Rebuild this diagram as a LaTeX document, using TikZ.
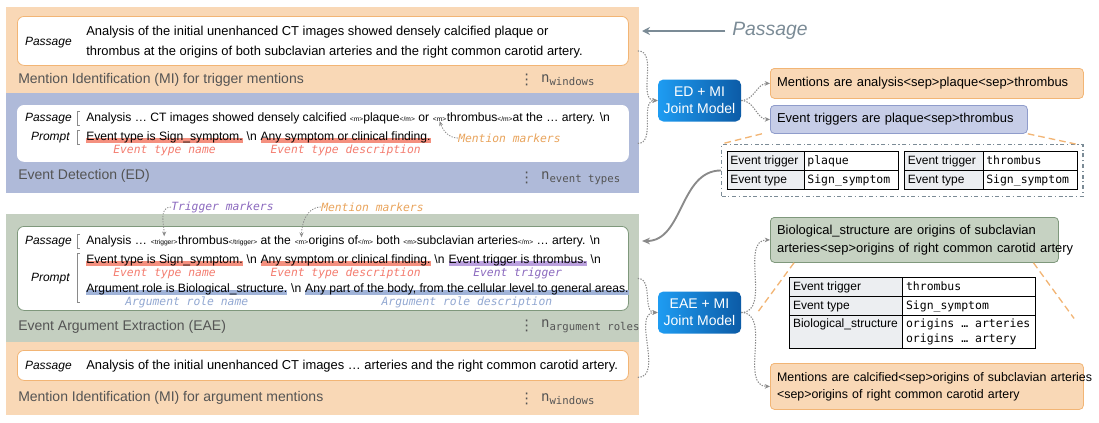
\documentclass[tikz,border=0pt]{standalone}
\usepackage{fontspec}
\setmainfont{Liberation Sans}
\setmonofont{DejaVu Sans Mono}
\newfontfamily\symfont{DejaVu Sans}
\usepackage{array}
\usepackage{colortbl}
\usetikzlibrary{positioning,arrows.meta}

\definecolor{miorange}{HTML}{F9D8B6}
\definecolor{miborder}{HTML}{F2B575}
\definecolor{edblue}{HTML}{AFBAD9}
\definecolor{edbox}{HTML}{C6CDE7}
\definecolor{edborder}{HTML}{8F9CCB}
\definecolor{eaegreen}{HTML}{C4CFC0}
\definecolor{eaebox}{HTML}{C6D2C2}
\definecolor{eaeborder}{HTML}{7F987C}
\definecolor{hlred}{HTML}{F4907F}
\definecolor{hlpurple}{HTML}{BBA1DE}
\definecolor{hlblue}{HTML}{A0B3D8}
\definecolor{txred}{HTML}{F47D70}
\definecolor{txorange}{HTML}{E9A45C}
\definecolor{txpurple}{HTML}{8B69BE}
\definecolor{txblue}{HTML}{92A8D2}
\definecolor{headgray}{HTML}{545454}
\definecolor{slate}{HTML}{7B8B96}
\definecolor{conngray}{HTML}{8A8A8A}
\definecolor{cellgray}{HTML}{ECEEF1}
\definecolor{jmtop}{HTML}{1E9CF2}
\definecolor{jmbot}{HTML}{0C5BA6}

\newcommand\passfont{\fontsize{9.7}{15}\selectfont}
\newcommand\promptfont{\fontsize{9.1}{11}\selectfont}
\newcommand\labfont{\itshape\fontsize{9}{11}\selectfont}
\newcommand\headfont{\fontsize{10.5}{12}\selectfont}
\newcommand\tagfont{\ttfamily\itshape\fontsize{8.5}{10}\selectfont}
\newcommand\outfont{\fontsize{9.7}{13.5}\selectfont}
\newcommand\mk[1]{{\fontsize{5}{5}\selectfont<#1>}}
\newcommand\hlbar[2]{\setbox0=\hbox{#2}\rlap{\color{#1}\rule[-2pt]{\wd0}{3.8pt}}\box0}
\newcommand\nsub[1]{n\raisebox{-0.45ex}{\fontsize{8}{8}\selectfont #1}}
\newcommand\wsp{\ \null}

\setlength\arrayrulewidth{0.8pt}
\setlength\tabcolsep{2pt}
\renewcommand\arraystretch{1.2}
\newcolumntype{K}[1]{>{\columncolor{cellgray}}p{#1}}
\newcolumntype{V}[1]{>{\ttfamily\fontsize{8.6}{11}\selectfont}p{#1}}

\begin{document}
\begin{tikzpicture}[x = 0.75pt, y = -0.75pt,
    seg/.style = {inner sep = 0pt, anchor = base west, font = \promptfont},
    lab/.style = {inner sep = 0pt, anchor = base east, font = \labfont},
    tag/.style = {inner sep = 0pt, font = \tagfont},
    heading/.style = {inner sep = 0pt, anchor = west, font = \headfont, text = headgray},
    dots/.style = {inner sep = 0pt, anchor = west, text = headgray, font = \symfont\fontsize{11}{11}\selectfont},
    count/.style = {inner sep = 0pt, right = 5pt of #1, font = \ttfamily\fontsize{10.5}{12}\selectfont, text = headgray},
    wbox/.style = {fill = white, rounded corners = 5pt, line width = 0.6pt, anchor = north west, minimum width = 458.25pt},
    outbox/.style = {rounded corners = 3pt, line width = 0.6pt, anchor = north west, align = left, inner xsep = 5pt, font = \outfont},
    joint/.style = {rounded corners = 4pt, left color = jmtop, right color = jmbot, text = white, align = center,
      minimum width = 62.25pt, minimum height = 31.5pt, inner sep = 0pt, font = \fontsize{10.5}{13}\selectfont},
    tabframe/.style = {draw = slate, line width = 0.9pt, dash dot, anchor = north west, inner xsep = 3.75pt, inner ysep = 5pt,
      font = \fontsize{9}{11}\selectfont},
    conn/.style = {draw = conngray, line width = 0.8pt, dash pattern = on 1pt off 1pt, -{Stealth[length = 4pt, width = 3.5pt]}},
    mkarrow/.style = {draw = conngray, line width = 0.6pt, dash pattern = on 1pt off 1pt, -{Stealth[length = 3.5pt, width = 3pt]}},
    brk/.style = {draw = conngray, line width = 0.5pt},
    zoomline/.style = {draw = miborder, line width = 1pt, dash pattern = on 5pt off 3pt}]
    \useasboundingbox (0,0) rectangle (1099,422);

    \fill[miorange] (6,7) rectangle (639,93);
    \fill[edblue] (6,93) rectangle (639,193);
    \fill[eaegreen] (6,214) rectangle (639,342);
    \fill[miorange] (6,342) rectangle (639,415);

    \node[wbox, draw = miborder, minimum height = 36.75pt] (pbox1) at (17,16) {};
    \node[lab] (plab1) at (72,45) {Passage};
    \node[inner sep = 0pt, anchor = west, align = left, font = \passfont] (ptext1) at (86,42)
      {Analysis of the initial unenhanced CT images showed densely calcified plaque or\\
       thrombus at the origins of both subclavian arteries and the right common carotid artery.};
    \node[heading] (mihead1) at (18,80) {Mention Identification (MI) for trigger mentions};
    \node[dots] (midots1) at (519,80) {⋮};
    \node[count = midots1] (micount1) {\nsub{windows}};

    \node[wbox, draw = white, minimum height = 42pt] (edbox) at (17,105) {};
    \node[lab] (edplab) at (72,121) {Passage};
    \node[seg] (edp1) at (86,121) {Analysis … CT images showed densely calcified \mk{m}plaque\mk{/m} or\wsp};
    \node[seg] (edmk) at (edp1.base east) {\mk{m}};
    \node[seg] (edp2) at (edmk.base east) {thrombus\mk{/m}at the … artery. \textbackslash n};
    \node[lab] (edqlab) at (70,140) {Prompt};
    \node[seg] (edtname) at (86,140) {\hlbar{hlred}{Event type is Sign\_symptom.}};
    \node[seg] (edsep1) at (edtname.base east) {\ \textbackslash n\wsp};
    \node[seg] (edtdesc) at (edsep1.base east) {\hlbar{hlred}{Any symptom or clinical finding.}};
    \node[tag, text = txred, below = 1.5pt of edtname] (edtnamelab) {Event type name};
    \node[tag, text = txred, below = 1.5pt of edtdesc] (edtdesclab) {Event type description};
    \node[tag, text = txorange, anchor = west] (edmklab) at (458,138) {Mention markers};
    \draw[mkarrow] (edmklab.west) to[out = 180, in = -70] (edmk.south);
    \draw[brk] (80,111) -- (77,111) -- (77,125) -- (80,125);
    \draw[brk] (80,130) -- (77,130) -- (77,144) -- (80,144);
    \node[heading] (edhead) at (18,176) {Event Detection (ED)};
    \node[dots] (eddots) at (519,178) {⋮};
    \node[count = eddots] (edcount) {\nsub{event types}};

    \node[wbox, draw = eaeborder, minimum height = 63pt] (eaebox) at (17,226) {};
    \node[lab] (eaeplab) at (72,244) {Passage};
    \node[seg] (eaep1) at (86,244) {Analysis …\wsp};
    \node[seg] (eaetrg) at (eaep1.base east) {\mk{trigger}};
    \node[seg] (eaep2) at (eaetrg.base east) {thrombus\mk{/trigger} at the\wsp};
    \node[seg] (eaem) at (eaep2.base east) {\mk{m}};
    \node[seg] (eaep3) at (eaem.base east) {origins of\mk{/m} both \mk{m}subclavian arteries\mk{/m} … artery. \textbackslash n};
    \node[lab] (eaeqlab) at (70,281) {Prompt};
    \node[seg] (eaetname) at (86,263) {\hlbar{hlred}{Event type is Sign\_symptom.}};
    \node[seg] (eaesep1) at (eaetname.base east) {\ \textbackslash n\wsp};
    \node[seg] (eaetdesc) at (eaesep1.base east) {\hlbar{hlred}{Any symptom or clinical finding.}};
    \node[seg] (eaesep2) at (eaetdesc.base east) {\ \textbackslash n\wsp};
    \node[seg] (eaetrig) at (eaesep2.base east) {\hlbar{hlpurple}{Event trigger is thrombus.}};
    \node[seg] (eaesep3) at (eaetrig.base east) {\ \textbackslash n};
    \node[seg] (eaerole) at (86,292) {\hlbar{hlblue}{Argument role is Biological\_structure.}};
    \node[seg] (eaesep4) at (eaerole.base east) {\ \textbackslash n\wsp};
    \node[seg] (eaerdesc) at (eaesep4.base east) {\hlbar{hlblue}{Any part of the body, from the cellular level to general areas.}};
    \node[tag, text = txred, below = 1.5pt of eaetname] (eaetnamelab) {Event type name};
    \node[tag, text = txred, below = 1.5pt of eaetdesc] (eaetdesclab) {Event type description};
    \node[tag, text = txpurple, below = 1.5pt of eaetrig] (eaetriglab) {Event trigger};
    \node[tag, text = txblue, below = 1.5pt of eaerole] (eaerolelab) {Argument role name};
    \node[tag, text = txblue, below = 1.5pt of eaerdesc] (eaerdesclab) {Argument role description};
    \node[tag, text = txpurple, anchor = west] (trglab) at (171,207) {Trigger markers};
    \node[tag, text = txorange, anchor = west] (mklab) at (321,207) {Mention markers};
    \draw[mkarrow, shorten > = 2pt] (trglab.west) to[out = 180, in = 90] (eaetrg.north);
    \draw[mkarrow, shorten > = 2pt] (mklab.west) to[out = 180, in = 90] (eaem.north);
    \draw[brk] (80,234) -- (77,234) -- (77,248) -- (80,248);
    \draw[brk] (80,253) -- (77,253) -- (77,302) -- (80,302);
    \node[heading] (eaehead) at (18,327) {Event Argument Extraction (EAE)};
    \node[dots] (eaedots) at (519,326) {⋮};
    \node[count = eaedots] (eaecount) {\nsub{argument roles}};

    \node[wbox, draw = miborder, minimum height = 22.5pt] (pbox2) at (17,350) {};
    \node[lab] (plab2) at (72,369) {Passage};
    \node[inner sep = 0pt, anchor = base west, font = \passfont] (ptext2) at (86,369)
      {Analysis of the initial unenhanced CT images … arteries and the right common carotid artery.};
    \node[heading] (mihead2) at (18,398) {Mention Identification (MI) for argument mentions};
    \node[dots] (midots2) at (519,399) {⋮};
    \node[count = midots2] (micount2) {\nsub{windows}};

    \node[inner sep = 0pt, anchor = west, text = slate, font = \itshape\fontsize{14.5}{16}\selectfont] (passlab) at (732,31) {Passage};
    \coordinate (passin) at (642,31);
    \draw[slate, line width = 1.4pt, -{Stealth[length = 6pt, width = 6pt]}] ([xshift = -5pt]passlab.west) -- (passin);

    \node[joint] (edmi) at (699.5,100.5) {ED + MI\\Joint Model};
    \node[joint] (eaemi) at (699.5,312.5) {EAE + MI\\Joint Model};

    \node[outbox, fill = miorange, draw = miborder, minimum height = 22.5pt, text width = 224.75pt] (edmen) at (770,68)
      {\mbox{Mentions are analysis<sep>plaque<sep>thrombus}};
    \node[outbox, fill = edbox, draw = edborder, minimum height = 21pt, text width = 182.75pt] (edtrig) at (770,105)
      {\mbox{Event triggers are plaque<sep>thrombus}};
    \node[tabframe] (edtab) at (721,144)
      {\begin{tabular}{|K{53pt}|V{66pt}|}\hline Event trigger & plaque\\\hline Event type & Sign\_symptom\\\hline\end{tabular}\hspace{3.75pt}%
       \begin{tabular}{|K{54pt}|V{66pt}|}\hline Event trigger & thrombus\\\hline Event type & Sign\_symptom\\\hline\end{tabular}};
    \draw[zoomline] ([xshift = -6pt]edtrig.south west) -- (edtab.north west);
    \draw[zoomline] (edtrig.south east) -- ([xshift = -6pt]edtab.north east);

    \node[outbox, fill = eaebox, draw = eaeborder, minimum height = 33.75pt, text width = 206pt] (eaearg) at (770,217)
      {\mbox{Biological\_structure are origins of subclavian}\\\mbox{arteries<sep>origins of right common carotid artery}};
    \node[inner sep = 0pt, anchor = north west, font = \fontsize{9}{11}\selectfont] (eaetab) at (789,277)
      {\begin{tabular}{|K{80pt}|V{95pt}|}\hline Event trigger & thrombus\\\hline Event type & Sign\_symptom\\\hline
       Biological\_structure & origins … arteries\newline origins … artery\\\hline\end{tabular}};
    \draw[zoomline] ([xshift = 18pt]eaearg.south west) -- ([xshift = -24pt]eaetab.west);
    \draw[zoomline] ([xshift = -19pt]eaearg.south east) -- ([xshift = 28pt, yshift = -4pt]eaetab.east);
    \node[outbox, fill = miorange, draw = miborder, minimum height = 34.5pt, text width = 224.75pt,
      font = \fontsize{9.3}{12.75}\selectfont] (eaemen) at (770,363)
      {\mbox{Mentions are calcified<sep>origins of subclavian arteries}\\\mbox{<sep>origins of right common carotid artery}};

    \coordinate (eaein) at (642,241);
    \draw[conngray, line width = 1.4pt, -{Stealth[length = 6pt, width = 5pt]}] (edtab.west) to[out = 180, in = 0] (eaein);

    \draw[conn] ([shift = {(9,10)}]pbox1.east) to[out = 0, in = 180] (edmi.west);
    \draw[conn] ([shift = {(9,10)}]edbox.east) to[out = 0, in = 180] (edmi.west);
    \draw[conn] (edmi.east) to[out = 0, in = 180] (edmen.west);
    \draw[conn] (edmi.east) to[out = 0, in = 180] (edtrig.west);
    \draw[conn] ([shift = {(9,10)}]eaebox.east) to[out = 0, in = 180] (eaemi.west);
    \draw[conn] ([shift = {(9,12)}]pbox2.east) to[out = 0, in = 180] (eaemi.west);
    \draw[conn] (eaemi.east) to[out = 0, in = 180] (eaearg.west);
    \draw[conn] (eaemi.east) to[out = 0, in = 180] (eaemen.west);
\end{tikzpicture}
\end{document}
